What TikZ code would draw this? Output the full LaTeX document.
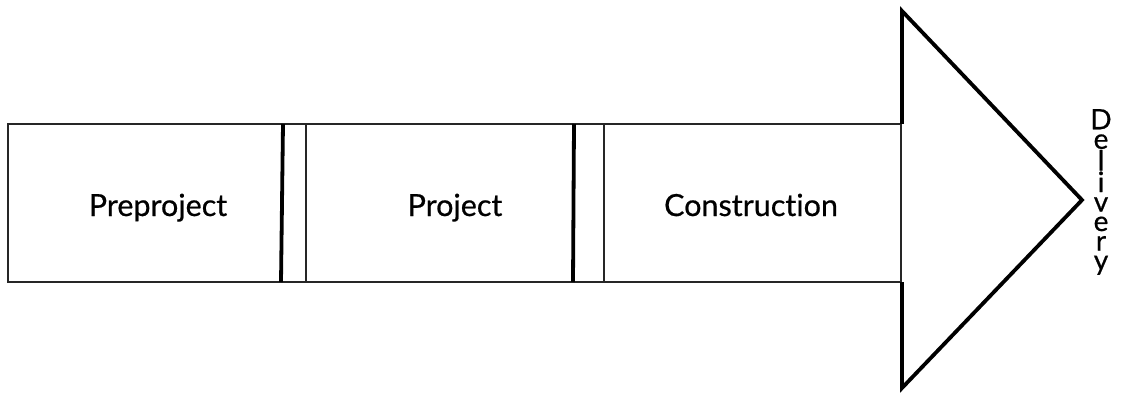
\documentclass[tikz,border=0pt]{standalone}
\usepackage{fontspec}
\setmainfont{Lato}[Ligatures={NoCommon}, FakeBold=0.6]
\tikzset{
  thin line/.style={line width=1.5pt, draw=black!85},
  thick line/.style={line width=3.8pt, draw=black},
  label/.style={font=\fontsize{30.5}{32}\selectfont, inner sep=0pt, anchor=base},
}
\begin{document}
\begin{tikzpicture}[x=1pt,y=-1pt]
\useasboundingbox (0,0) rectangle (1145,393);
% body outline
\coordinate (tl) at (8,124);
\coordinate (br) at (901,282);
\draw[thin line] (tl) rectangle (br);
% dividers
\draw[thin line] (306,124) -- (306,282);
\draw[thin line] (604,124) -- (604,282);
\draw[thick line] (283,124) -- (281,282);
\draw[thick line] (574,124) -- (573,282);
% arrow head
\coordinate (a1) at (902,124);
\coordinate (a2) at (902,11);
\coordinate (tip) at (1082,200);
\coordinate (a4) at (902,388);
\coordinate (a5) at (902,282);
\draw[thick line, line join=miter] (a1) -- (a2) -- (tip) -- (a4) -- (a5);
% labels
\node[label] (pre) at (158,216) {Preproject};
\node[label] (proj) at (455,216) {Project};
\node[label] (cons) at (751,216) {Construction};
\node[inner sep=0pt, font=\fontsize{28}{19.5}\selectfont, align=center] (del) at (1101,192)
  {D\\e\\l\\i\\v\\e\\r\\y};
\end{tikzpicture}
\end{document}
